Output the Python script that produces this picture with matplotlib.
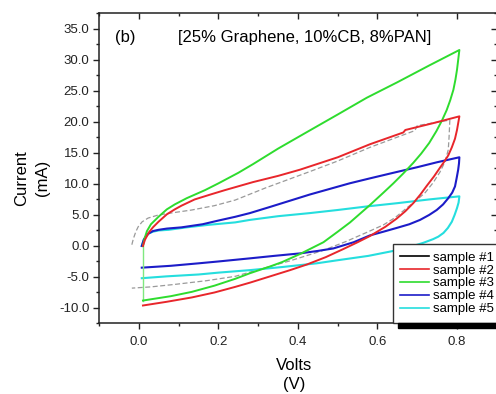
import matplotlib
matplotlib.use("Agg")
import matplotlib.pyplot as plt
import matplotlib.patches as patches
from matplotlib.lines import Line2D
from matplotlib.ticker import MultipleLocator, FormatStrFormatter

plt.rcParams['font.family'] = ['Liberation Sans', 'DejaVu Sans']

# sample #1 (grey dashed trace)
s1_v_up = [-0.018, -0.014, -0.008, -0.002, 0.008, 0.023, 0.049, 0.09, 0.133, 0.19, 0.242, 0.32, 0.43, 0.5, 0.581, 0.694, 0.70, 0.782]
s1_i_up = [0.2, 1.2, 2.3, 3.1, 3.9, 4.5, 5.0, 5.4, 5.8, 6.5, 7.4, 9.4, 12.0, 13.7, 15.9, 18.6, 19.4, 20.3]
s1_v_dn = [0.782, 0.780, 0.778, 0.77, 0.757, 0.74, 0.72, 0.695, 0.673, 0.645, 0.615, 0.577, 0.52, 0.464, 0.42, 0.38, 0.313, 0.242, 0.17, 0.09, 0.03, -0.018]
s1_i_dn = [20.3, 17.5, 15.5, 13.6, 11.9, 10.2, 8.6, 7.2, 6.1, 4.6, 3.4, 2.3, 0.7, -0.7, -1.6, -2.4, -3.6, -4.9, -5.6, -6.2, -6.6, -6.8]

# sample #2
s2_v_up = [0.01, 0.015, 0.025, 0.035, 0.049, 0.07, 0.09, 0.107, 0.14, 0.18, 0.216, 0.287, 0.35, 0.405, 0.5, 0.581, 0.665, 0.67, 0.74, 0.806]
s2_i_up = [0.0, 1.0, 2.2, 3.0, 3.9, 5.1, 5.9, 6.5, 7.5, 8.3, 9.0, 10.3, 11.3, 12.3, 14.3, 16.4, 18.3, 18.7, 19.8, 20.9]
s2_v_dn = [0.806, 0.803, 0.80, 0.795, 0.787, 0.778, 0.768, 0.757, 0.742, 0.724, 0.708, 0.69, 0.67, 0.648, 0.62, 0.581, 0.55, 0.514, 0.47, 0.422, 0.38, 0.33, 0.28, 0.242, 0.19, 0.133, 0.07, 0.01]
s2_i_dn = [20.9, 19.8, 18.7, 17.3, 15.9, 14.6, 13.6, 12.6, 11.2, 9.7, 8.3, 6.9, 5.6, 4.4, 3.1, 1.6, 0.6, -0.5, -1.8, -3.0, -3.9, -4.9, -5.9, -6.6, -7.5, -8.3, -9.0, -9.6]

# sample #3
s3_v_up = [0.01, 0.014, 0.02, 0.03, 0.049, 0.07, 0.09, 0.12, 0.166, 0.2, 0.25, 0.287, 0.35, 0.418, 0.5, 0.573, 0.65, 0.73, 0.806]
s3_i_up = [0.0, 1.2, 2.4, 3.5, 4.7, 5.9, 6.7, 7.7, 9.0, 10.1, 11.8, 13.2, 15.7, 18.2, 21.2, 23.9, 26.4, 29.1, 31.6]
s3_v_dn = [0.806, 0.803, 0.80, 0.796, 0.791, 0.783, 0.774, 0.762, 0.748, 0.73, 0.71, 0.69, 0.665, 0.64, 0.615, 0.581, 0.531, 0.5, 0.464, 0.405, 0.36, 0.33, 0.279, 0.242, 0.19, 0.133, 0.08, 0.04, 0.01]
s3_i_dn = [31.6, 30.0, 28.4, 26.8, 25.2, 23.5, 21.9, 20.2, 18.5, 16.6, 14.9, 13.4, 11.7, 10.1, 8.6, 6.6, 3.8, 2.3, 0.6, -1.3, -2.6, -3.3, -4.4, -5.3, -6.4, -7.4, -8.1, -8.5, -8.8]

# sample #4
s4_v_up = [0.007, 0.012, 0.018, 0.024, 0.035, 0.049, 0.07, 0.107, 0.16, 0.2, 0.242, 0.279, 0.33, 0.38, 0.43, 0.48, 0.53, 0.581, 0.64, 0.7, 0.75, 0.806]
s4_i_up = [0.0, 1.0, 1.6, 2.0, 2.4, 2.6, 2.8, 3.0, 3.5, 4.1, 4.7, 5.3, 6.3, 7.3, 8.3, 9.2, 10.1, 10.9, 11.8, 12.7, 13.5, 14.3]
s4_v_dn = [0.806, 0.805, 0.803, 0.799, 0.795, 0.788, 0.778, 0.765, 0.749, 0.73, 0.707, 0.68, 0.648, 0.615, 0.581, 0.54, 0.489, 0.45, 0.405, 0.34, 0.279, 0.2, 0.15, 0.08, 0.007]
s4_i_dn = [14.3, 13.3, 12.3, 10.9, 9.6, 8.6, 7.7, 6.7, 5.8, 5.0, 4.2, 3.5, 2.9, 2.3, 1.7, 0.6, -0.4, -0.8, -1.2, -1.6, -2.0, -2.5, -2.8, -3.2, -3.5]

# sample #5
s5_v_up = [0.007, 0.012, 0.018, 0.024, 0.035, 0.05, 0.074, 0.12, 0.174, 0.242, 0.279, 0.35, 0.43, 0.5, 0.577, 0.65, 0.73, 0.806]
s5_i_up = [0.0, 1.0, 1.6, 2.0, 2.3, 2.5, 2.6, 3.0, 3.4, 3.8, 4.2, 4.8, 5.3, 5.8, 6.4, 6.9, 7.5, 8.0]
s5_v_dn = [0.806, 0.804, 0.80, 0.794, 0.787, 0.777, 0.766, 0.753, 0.74, 0.715, 0.68, 0.64, 0.577, 0.5, 0.447, 0.36, 0.279, 0.2, 0.15, 0.07, 0.007]
s5_i_dn = [8.0, 7.0, 6.1, 5.0, 3.9, 2.9, 2.1, 1.5, 1.1, 0.5, -0.2, -0.8, -1.6, -2.3, -2.8, -3.4, -3.9, -4.3, -4.6, -4.9, -5.2]

labels = ["sample #1", "sample #2", "sample #3", "sample #4", "sample #5"]
colors = ["black", "#e8262b", "#2edc2e", "#1c1cc8", "#25dede"]

fig = plt.figure(figsize=(4.96, 3.94), dpi=100)
ax = fig.add_axes([0.2001, 0.179, 0.8014, 0.787])

# grey dashed first so the coloured loops sit on top
ax.plot(s1_v_up + s1_v_dn, s1_i_up + s1_i_dn, color="#9a9a9a", lw=0.9, ls=(0, (4, 2)))
ax.plot(s5_v_up + s5_v_dn, s5_i_up + s5_i_dn, color=colors[4], lw=1.5)
ax.plot(s4_v_up + s4_v_dn, s4_i_up + s4_i_dn, color=colors[3], lw=1.5)
# thin closing segment of the green loop at the start voltage
ax.plot([s3_v_dn[-1], s3_v_up[0]], [s3_i_dn[-1], s3_i_up[0]], color="#7fe87f", lw=1.0)
ax.plot(s3_v_up + s3_v_dn, s3_i_up + s3_i_dn, color=colors[2], lw=1.4)
ax.plot(s2_v_up + s2_v_dn, s2_i_up + s2_i_dn, color=colors[1], lw=1.4)

ax.set_xlim(-0.1, 0.9)
ax.set_ylim(-12.5, 37.5)
ax.xaxis.set_major_locator(MultipleLocator(0.2))
ax.xaxis.set_minor_locator(MultipleLocator(0.1))
ax.yaxis.set_major_locator(MultipleLocator(5))
ax.yaxis.set_minor_locator(MultipleLocator(2.5))
ax.xaxis.set_major_formatter(FormatStrFormatter("%.1f"))
ax.yaxis.set_major_formatter(FormatStrFormatter("%.1f"))

ax.tick_params(axis="both", which="both", labelsize=9.5, colors="#222222")
ax.tick_params(axis="both", which="major", direction="out", length=4, width=1)
ax.tick_params(axis="both", which="minor", direction="out", length=2.5, width=1)
ax.tick_params(axis="x", which="major", pad=5)
ax.tick_params(axis="y", which="major", pad=3)
ax.spines["right"].set_visible(False)
for s in ["left", "bottom", "top"]:
    ax.spines[s].set_linewidth(1.1)
    ax.spines[s].set_color("#222222")

# inward ticks on top and right, no labels
top = ax.secondary_xaxis("top")
top.xaxis.set_major_locator(MultipleLocator(0.2))
top.xaxis.set_minor_locator(MultipleLocator(0.1))
top.tick_params(which="major", direction="in", length=4, width=1, colors="#222222", labeltop=False)
top.tick_params(which="minor", direction="in", length=2.5, width=1, colors="#222222")
top.spines["top"].set_visible(False)
right = ax.secondary_yaxis("right")
right.yaxis.set_major_locator(MultipleLocator(5))
right.yaxis.set_minor_locator(MultipleLocator(2.5))
right.tick_params(which="major", direction="in", length=4, width=1, colors="#222222", labelright=False)
right.tick_params(which="minor", direction="in", length=2.5, width=1, colors="#222222")
right.spines["right"].set_visible(False)

ax.set_xlabel("Volts\n(V)", fontsize=12, linespacing=1.3)
ax.xaxis.set_label_coords(0.49, -0.112)
ax.set_ylabel("Current\n(mA)", fontsize=12, linespacing=1.45)
ax.yaxis.set_label_coords(-0.124, 0.469)

ax.text(0.04, 0.921, "(b)", transform=ax.transAxes, fontsize=12, va="center", ha="left")
ax.text(0.198, 0.921, "[25% Graphene, 10%CB, 8%PAN]", transform=ax.transAxes,
        fontsize=12, va="center", ha="left")

handles = [Line2D([], [], color=c, lw=1.2) for c in colors]
leg = ax.legend(handles, labels, loc="lower left", bbox_to_anchor=(0.739, 0.003),
                fontsize=9.5, frameon=True, fancybox=False, framealpha=1,
                edgecolor="#333333", handlelength=2.2, handletextpad=0.3,
                labelspacing=0.05, borderpad=0.55, borderaxespad=0)
leg.get_frame().set_linewidth(1.0)

# dark bar under the legend box
ax.add_patch(patches.Rectangle((0.752, -0.015), 0.26, 0.017, transform=ax.transAxes,
                               color="black", clip_on=False, zorder=6))

fig.savefig("out.png", dpi=100)
